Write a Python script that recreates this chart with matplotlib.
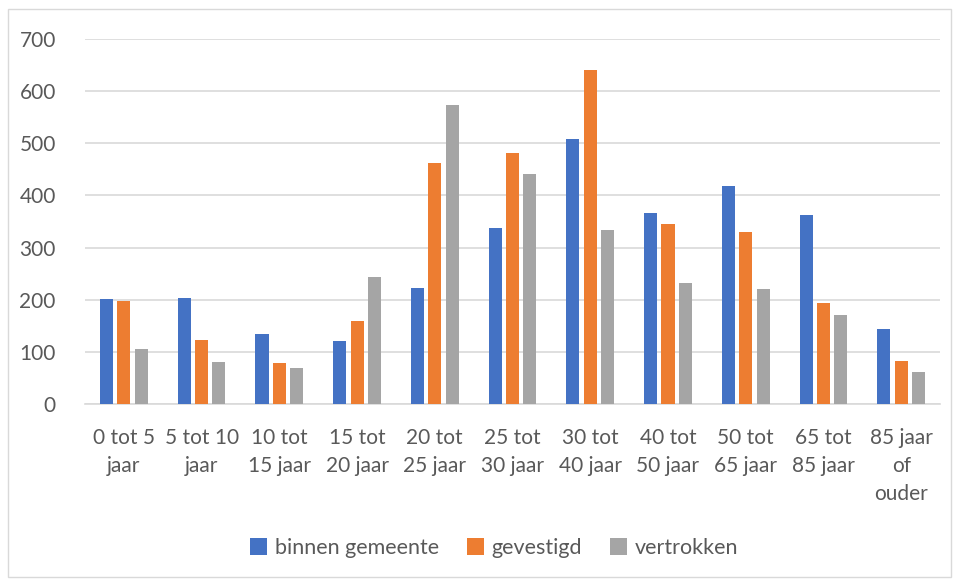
import matplotlib.pyplot as plt
import numpy as np
from matplotlib.patches import Rectangle

categories = ["0 tot 5\njaar", "5 tot 10\njaar", "10 tot\n15 jaar", "15 tot\n20 jaar",
              "20 tot\n25 jaar", "25 tot\n30 jaar", "30 tot\n40 jaar", "40 tot\n50 jaar",
              "50 tot\n65 jaar", "65 tot\n85 jaar", "85 jaar\nof\nouder"]
binnen_gemeente = [201, 203, 134, 121, 222, 338, 508, 366, 419, 362, 143]
gevestigd = [198, 123, 78, 159, 462, 481, 641, 346, 329, 194, 82]
vertrokken = [105, 81, 70, 243, 573, 441, 333, 233, 221, 170, 61]

series = [("binnen gemeente", binnen_gemeente, "#4472C4"),
          ("gevestigd", gevestigd, "#ED7D31"),
          ("vertrokken", vertrokken, "#A5A5A5")]

plt.rcParams["font.family"] = ["Lato", "DejaVu Sans"]
TXT = "#595959"

fig = plt.figure(figsize=(9.57, 5.79), dpi=100)
ax = fig.add_axes([0.0888, 0.3022, 0.8935, 0.6304])

x = np.arange(len(categories))
w = 0.168
step = 0.223
for i, (label, vals, color) in enumerate(series):
    ax.bar(x + (i - 1) * step, vals, width=w, color=color, label=label, zorder=3)

ax.set_xlim(-0.5, len(categories) - 0.5)
ax.set_ylim(0, 700)
ax.set_yticks(range(0, 701, 100))
ax.yaxis.grid(True, color="#d9d9d9", linewidth=1.2, zorder=0)
ax.set_xticks(x)
ax.set_xticklabels(categories, linespacing=1.5)
ax.tick_params(axis="both", length=0, colors=TXT, labelsize=15)
ax.tick_params(axis="x", pad=17)
ax.tick_params(axis="y", pad=21)
for s in ["left", "right", "top"]:
    ax.spines[s].set_visible(False)
ax.spines["bottom"].set_color("#d9d9d9")
ax.spines["bottom"].set_linewidth(1.2)

fig.legend(loc="center", bbox_to_anchor=(494 / 957, 1 - 548 / 579), ncol=3, frameon=False,
           fontsize=15.5, handlelength=0.8, handleheight=0.8, handletextpad=0.35,
           columnspacing=1.3, labelcolor=TXT)

fig.patches.append(Rectangle((8 / 957, 2 / 579), 943 / 957, 568 / 579, transform=fig.transFigure,
                             fill=False, edgecolor="#d9d9d9", linewidth=1))

fig.savefig("out.png", dpi=100)
